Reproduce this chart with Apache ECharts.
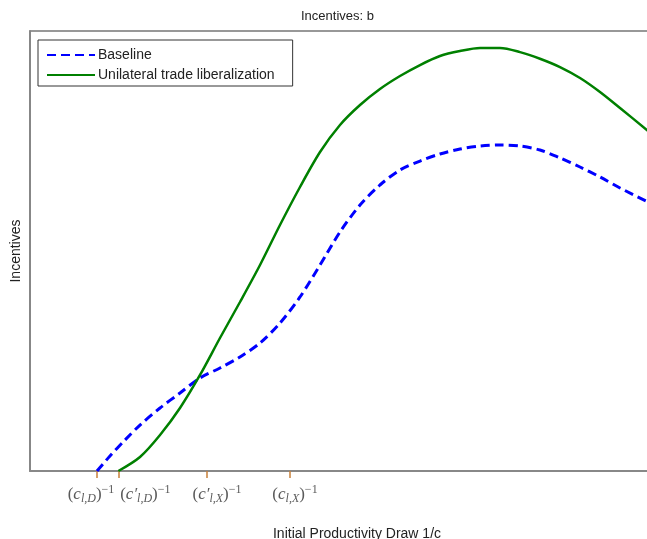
<!DOCTYPE html>
<html>
<head>
<meta charset="utf-8">
<script src="https://cdn.jsdelivr.net/npm/echarts@6/dist/echarts.min.js"></script>
<style>html,body{margin:0;padding:0;background:#fff;}#chart{width:647px;height:539px;}</style>
</head>
<body>
<div id="chart"></div>
<script>
// Data (arbitrary units: x 0..10, y 0..10)
const baselineX = [1.084, 1.294, 1.537, 1.780, 2.104, 2.427, 2.751, 3.074, 3.398, 3.722, 4.045, 4.369, 4.693, 5.016, 5.340, 5.663, 5.987, 6.311, 6.634, 6.958, 7.282, 7.605, 7.929, 8.252, 8.576, 8.900, 9.223, 9.547, 10.0];
const baselineY = [0.0, 0.341, 0.705, 1.045, 1.432, 1.773, 2.114, 2.341, 2.591, 2.909, 3.364, 3.955, 4.682, 5.432, 6.045, 6.500, 6.841, 7.045, 7.205, 7.318, 7.386, 7.409, 7.386, 7.295, 7.114, 6.909, 6.682, 6.432, 6.114];
const liberalX = [1.43, 1.780, 2.104, 2.427, 2.751, 3.074, 3.398, 3.722, 4.045, 4.369, 4.693, 5.016, 5.340, 5.663, 5.987, 6.311, 6.634, 6.958, 7.282, 7.605, 7.929, 8.252, 8.576, 8.900, 9.223, 9.547, 10.0];
const liberalY = [0.0, 0.318, 0.818, 1.432, 2.182, 3.023, 3.841, 4.682, 5.591, 6.455, 7.250, 7.864, 8.318, 8.682, 8.977, 9.227, 9.432, 9.545, 9.614, 9.614, 9.520, 9.370, 9.180, 8.932, 8.614, 8.250, 7.730];
const tickValues = [1.084, 1.43, 2.864, 4.207];
const tickLabels = ['(c_{l,D})^{-1}', '(c′_{l,D})^{-1}', '(c′_{l,X})^{-1}', '(c_{l,X})^{-1}'];
const seriesNames = ['Baseline', 'Unilateral trade liberalization'];

function zip(xs, ys) { return xs.map((x, i) => [x, ys[i]]); }

function toRich(s) {
  return s
    .replace(/\(/g, '{n|(}')
    .replace(/\)/g, '{n|)}')
    .replace(/c(′?)_\{([^}]*)\}/g, '{i|c$1}{s|$2}')
    .replace(/\^\{([^}]*)\}/g, '{p|$1}')
    .replace(/-/g, '−');
}

// horizontal nudges of the tick labels, as placed in the reference
const labelShift = [-6, 27, 10, 5];

const serif = 'Liberation Serif';
const lblColor = '#5a5a5a';
const rich = {
  n: { fontFamily: serif, fontSize: 17, color: lblColor },
  i: { fontFamily: serif, fontStyle: 'italic', fontSize: 17, color: lblColor },
  s: { fontFamily: serif, fontStyle: 'italic', fontSize: 12, color: lblColor, padding: [9, 0, 0, 0] },
  p: { fontFamily: serif, fontSize: 12, color: lblColor, padding: [0, 0, 9, 0] }
};
labelShift.forEach((sh, k) => { rich['g' + k] = { width: Math.abs(sh) * 2, height: 1 }; });

function fmt(v) {
  const i = tickValues.indexOf(v);
  if (i < 0) return '';
  const sh = labelShift[i];
  const txt = toRich(tickLabels[i]);
  if (sh > 0) return '{g' + i + '|}' + txt;
  return txt + '{g' + i + '|}';
}

// two bottom axes sharing one scale so that the two close ticks are both kept
const groupA = [tickValues[0], tickValues[2], tickValues[3]];
const groupB = [tickValues[1]];

function makeX(values, withName, withLine) {
  return {
    type: 'value',
    min: 0, max: 10,
    position: 'bottom',
    name: withName ? 'Initial Productivity Draw 1/c' : '',
    nameLocation: 'middle',
    nameGap: 56,
    nameTextStyle: { fontSize: 14, color: '#222', fontFamily: 'Liberation Sans', padding: [0, 0, 0, 36] },
    axisLine: { show: withLine, lineStyle: { color: '#888', width: 1.8 } },
    axisTick: { show: true, customValues: values, length: 7, lineStyle: { color: '#c8803a', width: 1.5 } },
    splitLine: { show: false },
    axisLabel: {
      customValues: values,
      hideOverlap: false,
      margin: 13,
      color: lblColor,
      formatter: fmt,
      rich: rich
    }
  };
}

const chart = echarts.init(document.getElementById('chart'));
const option = {
  backgroundColor: '#fff',
  animation: false,
  title: {
    text: 'Incentives: b',
    left: 296,
    top: 5,
    textStyle: { fontSize: 13, fontWeight: 'normal', color: '#222', fontFamily: 'Liberation Sans' }
  },
  legend: {
    orient: 'vertical',
    left: 38,
    top: 40,
    padding: [8, 18, 4, 8],
    itemWidth: 48,
    itemHeight: 12,
    itemGap: 6,
    borderColor: '#333',
    borderWidth: 1,
    backgroundColor: '#fff',
    itemStyle: { opacity: 0 },
    textStyle: { fontSize: 14, color: '#222', fontFamily: 'Liberation Sans', padding: [0, 0, 0, -2] },
    data: seriesNames
  },
  grid: {
    left: 30, right: -1, top: 31, bottom: 68,
    outerBoundsMode: 'none',
    containLabel: false,
    show: true, borderColor: '#333', borderWidth: 1.2
  },
  xAxis: [makeX(groupA, true, true), makeX(groupB, false, false)],
  yAxis: {
    type: 'value',
    min: 0, max: 10,
    name: 'Incentives',
    nameLocation: 'middle',
    nameGap: 7,
    nameTextStyle: { fontSize: 14, color: '#222', fontFamily: 'Liberation Sans' },
    axisLine: { show: true, lineStyle: { color: '#888', width: 1.8 } },
    axisTick: { show: false },
    axisLabel: { show: false },
    splitLine: { show: false }
  },
  series: [
    {
      name: seriesNames[0],
      type: 'line',
      xAxisIndex: 0,
      data: zip(baselineX, baselineY),
      smooth: 0.3,
      symbol: 'none',
      lineStyle: { color: '#0000ff', width: 3, type: [9, 5] },
      itemStyle: { color: '#0000ff' },
      z: 3
    },
    {
      name: seriesNames[1],
      type: 'line',
      xAxisIndex: 0,
      data: zip(liberalX, liberalY),
      smooth: 0.3,
      symbol: 'none',
      lineStyle: { color: '#008000', width: 2.5 },
      itemStyle: { color: '#008000' },
      z: 4
    }
  ]
};
chart.setOption(option);
</script>
</body>
</html>
